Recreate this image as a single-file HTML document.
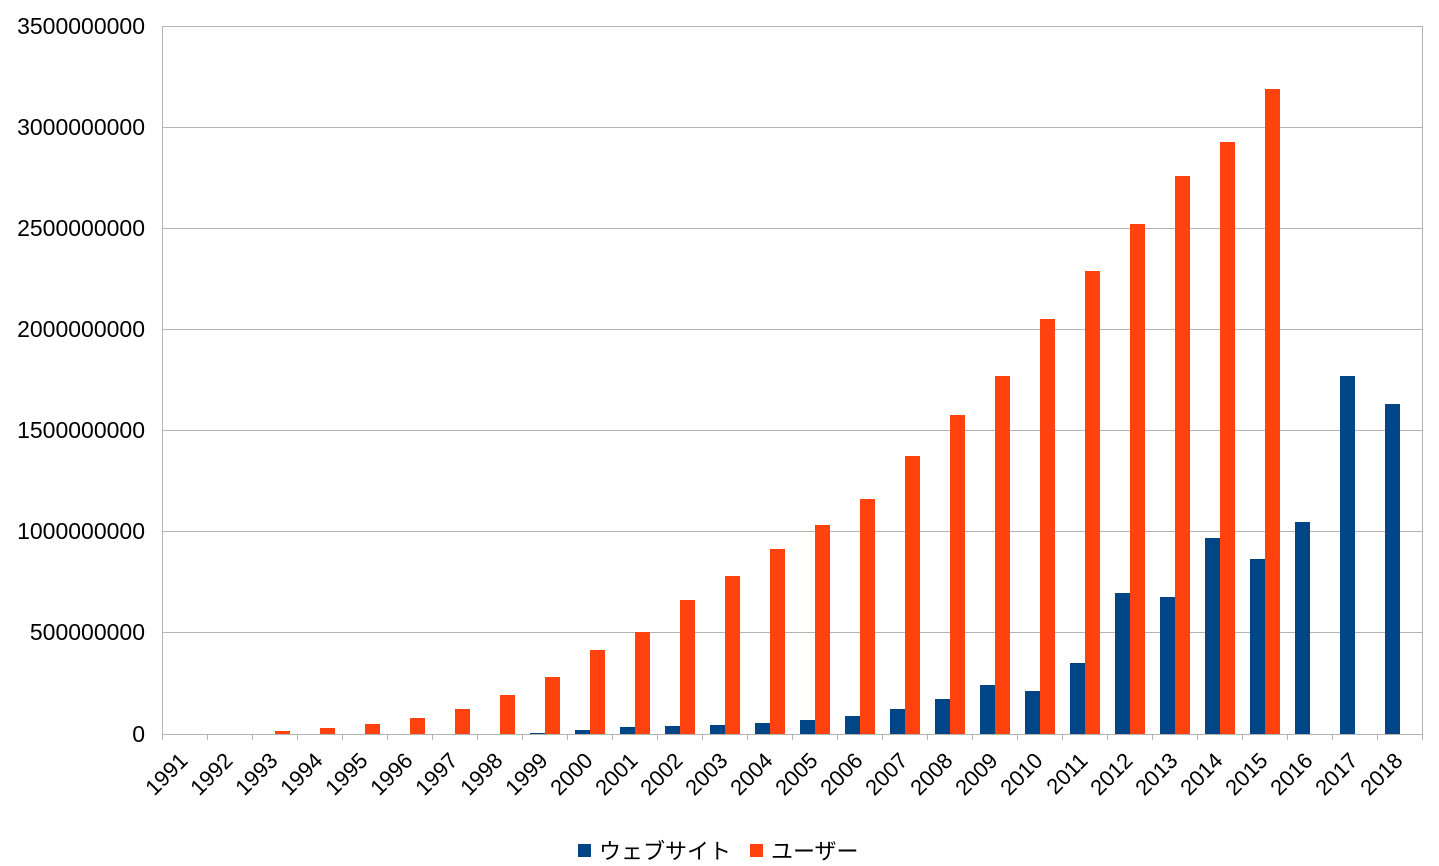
<!DOCTYPE html>
<html><head><meta charset="utf-8"><style>body{margin:0;background:#fff}svg{display:block}text{font-family:"Liberation Sans","Noto Sans CJK JP",sans-serif;fill:#000}</style></head><body>
<svg width="1439" height="866" xmlns="http://www.w3.org/2000/svg">
<g stroke="#b3b3b3" stroke-width="1">
<line x1="162" y1="26.5" x2="1422" y2="26.5"/><line x1="162" y1="127.5" x2="1422" y2="127.5"/><line x1="162" y1="228.5" x2="1422" y2="228.5"/><line x1="162" y1="329.5" x2="1422" y2="329.5"/><line x1="162" y1="430.5" x2="1422" y2="430.5"/><line x1="162" y1="531.5" x2="1422" y2="531.5"/><line x1="162" y1="632.5" x2="1422" y2="632.5"/><line x1="162" y1="734.5" x2="1422" y2="734.5"/>
<line x1="162.5" y1="26" x2="162.5" y2="740"/><line x1="1422.5" y1="26" x2="1422.5" y2="740"/>
<line x1="207.5" y1="734" x2="207.5" y2="740"/><line x1="252.5" y1="734" x2="252.5" y2="740"/><line x1="297.5" y1="734" x2="297.5" y2="740"/><line x1="342.5" y1="734" x2="342.5" y2="740"/><line x1="387.5" y1="734" x2="387.5" y2="740"/><line x1="432.5" y1="734" x2="432.5" y2="740"/><line x1="477.5" y1="734" x2="477.5" y2="740"/><line x1="522.5" y1="734" x2="522.5" y2="740"/><line x1="567.5" y1="734" x2="567.5" y2="740"/><line x1="612.5" y1="734" x2="612.5" y2="740"/><line x1="657.5" y1="734" x2="657.5" y2="740"/><line x1="702.5" y1="734" x2="702.5" y2="740"/><line x1="747.5" y1="734" x2="747.5" y2="740"/><line x1="792.5" y1="734" x2="792.5" y2="740"/><line x1="837.5" y1="734" x2="837.5" y2="740"/><line x1="882.5" y1="734" x2="882.5" y2="740"/><line x1="927.5" y1="734" x2="927.5" y2="740"/><line x1="972.5" y1="734" x2="972.5" y2="740"/><line x1="1017.5" y1="734" x2="1017.5" y2="740"/><line x1="1062.5" y1="734" x2="1062.5" y2="740"/><line x1="1107.5" y1="734" x2="1107.5" y2="740"/><line x1="1152.5" y1="734" x2="1152.5" y2="740"/><line x1="1197.5" y1="734" x2="1197.5" y2="740"/><line x1="1242.5" y1="734" x2="1242.5" y2="740"/><line x1="1287.5" y1="734" x2="1287.5" y2="740"/><line x1="1332.5" y1="734" x2="1332.5" y2="740"/><line x1="1377.5" y1="734" x2="1377.5" y2="740"/>
</g>
<g font-size="23" text-anchor="end">
<text x="145" y="34">3500000000</text><text x="145" y="135">3000000000</text><text x="145" y="236">2500000000</text><text x="145" y="337">2000000000</text><text x="145" y="438">1500000000</text><text x="145" y="539">1000000000</text><text x="145" y="640">500000000</text><text x="145" y="742">0</text>
</g>
<g fill="#004586">
<rect x="530" y="733" width="15" height="1"/><rect x="575" y="730" width="15" height="4"/><rect x="620" y="727" width="15" height="7"/><rect x="665" y="726" width="15" height="8"/><rect x="710" y="725" width="15" height="9"/><rect x="755" y="723" width="15" height="11"/><rect x="800" y="720" width="15" height="14"/><rect x="845" y="716" width="15" height="18"/><rect x="890" y="709" width="15" height="25"/><rect x="935" y="699" width="15" height="35"/><rect x="980" y="685" width="15" height="49"/><rect x="1025" y="691" width="15" height="43"/><rect x="1070" y="663" width="15" height="71"/><rect x="1115" y="593" width="15" height="141"/><rect x="1160" y="597" width="15" height="137"/><rect x="1205" y="538" width="15" height="196"/><rect x="1250" y="559" width="15" height="175"/><rect x="1295" y="522" width="15" height="212"/><rect x="1340" y="376" width="15" height="358"/><rect x="1385" y="404" width="15" height="330"/>
</g>
<g fill="#ff420e">
<rect x="275" y="731" width="15" height="3"/><rect x="320" y="728" width="15" height="6"/><rect x="365" y="724" width="15" height="10"/><rect x="410" y="718" width="15" height="16"/><rect x="455" y="709" width="15" height="25"/><rect x="500" y="695" width="15" height="39"/><rect x="545" y="677" width="15" height="57"/><rect x="590" y="650" width="15" height="84"/><rect x="635" y="632" width="15" height="102"/><rect x="680" y="600" width="15" height="134"/><rect x="725" y="576" width="15" height="158"/><rect x="770" y="549" width="15" height="185"/><rect x="815" y="525" width="15" height="209"/><rect x="860" y="499" width="15" height="235"/><rect x="905" y="456" width="15" height="278"/><rect x="950" y="415" width="15" height="319"/><rect x="995" y="376" width="15" height="358"/><rect x="1040" y="319" width="15" height="415"/><rect x="1085" y="271" width="15" height="463"/><rect x="1130" y="224" width="15" height="510"/><rect x="1175" y="176" width="15" height="558"/><rect x="1220" y="142" width="15" height="592"/><rect x="1265" y="89" width="15" height="645"/>
</g>
<g font-size="22" text-anchor="end">
<text transform="translate(189,762) rotate(-45)">1991</text>
<text transform="translate(234,762) rotate(-45)">1992</text>
<text transform="translate(279,762) rotate(-45)">1993</text>
<text transform="translate(324,762) rotate(-45)">1994</text>
<text transform="translate(369,762) rotate(-45)">1995</text>
<text transform="translate(414,762) rotate(-45)">1996</text>
<text transform="translate(459,762) rotate(-45)">1997</text>
<text transform="translate(504,762) rotate(-45)">1998</text>
<text transform="translate(549,762) rotate(-45)">1999</text>
<text transform="translate(594,762) rotate(-45)">2000</text>
<text transform="translate(639,762) rotate(-45)">2001</text>
<text transform="translate(684,762) rotate(-45)">2002</text>
<text transform="translate(729,762) rotate(-45)">2003</text>
<text transform="translate(774,762) rotate(-45)">2004</text>
<text transform="translate(819,762) rotate(-45)">2005</text>
<text transform="translate(864,762) rotate(-45)">2006</text>
<text transform="translate(909,762) rotate(-45)">2007</text>
<text transform="translate(954,762) rotate(-45)">2008</text>
<text transform="translate(999,762) rotate(-45)">2009</text>
<text transform="translate(1044,762) rotate(-45)">2010</text>
<text transform="translate(1089,762) rotate(-45)">2011</text>
<text transform="translate(1134,762) rotate(-45)">2012</text>
<text transform="translate(1179,762) rotate(-45)">2013</text>
<text transform="translate(1224,762) rotate(-45)">2014</text>
<text transform="translate(1269,762) rotate(-45)">2015</text>
<text transform="translate(1314,762) rotate(-45)">2016</text>
<text transform="translate(1359,762) rotate(-45)">2017</text>
<text transform="translate(1404,762) rotate(-45)">2018</text>
</g>
<rect x="578" y="844" width="13" height="13" fill="#004586"/>
<text x="599" y="859" font-size="22">ウェブサイト</text>
<rect x="750" y="844" width="13" height="13" fill="#ff420e"/>
<text x="771" y="859" font-size="22">ユーザー</text>
</svg></body></html>
